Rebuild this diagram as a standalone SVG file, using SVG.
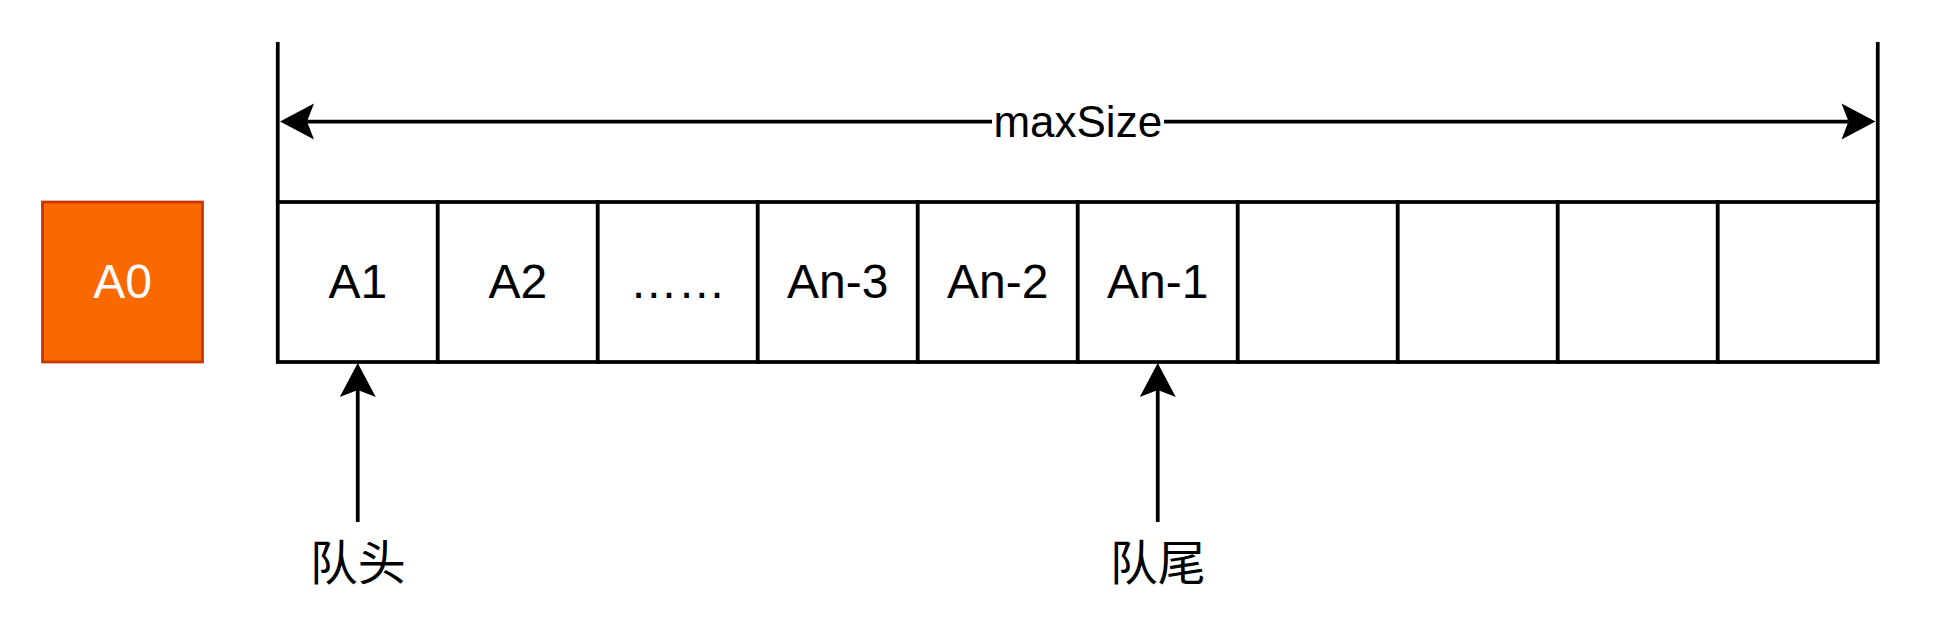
<svg xmlns="http://www.w3.org/2000/svg" width="1956" height="644" viewBox="0 0 1956 644">
  <style>
    .cell { fill: #ffffff; stroke: #000000; stroke-width: 3.75; }
    .lbl { font-family: "Liberation Sans", Arial, sans-serif; font-size: 48px; fill: #000000; text-anchor: middle; }
    .cjk { font-family: "Noto Sans CJK SC", "Liberation Sans", sans-serif; font-size: 48px; fill: #000000; text-anchor: middle; }
    .edge { fill: none; stroke: #000000; stroke-width: 3.75; }
  </style>
  <defs>
    <marker id="arrow" markerUnits="userSpaceOnUse" viewBox="-1 -20 37 40" markerWidth="37" markerHeight="40" refX="7" refY="0" orient="auto-start-reverse" overflow="visible">
      <path d="M0,-18 L34,0 L0,18 L7,0 Z" fill="#000000" stroke="none"/>
    </marker>
  </defs>
  <rect width="1956" height="644" fill="#ffffff"/>

  <g id="A0">
    <rect x="42.5" y="202" width="160" height="160" fill="#fa6800" stroke="#c73500" stroke-width="2.75"/>
    <text x="122.5" y="298" class="lbl" fill="#ffffff" style="fill:#ffffff">A0</text>
  </g>

  <g id="cell1"><rect class="cell" x="277.75" y="202" width="160" height="160"/><text class="lbl" x="357.75" y="298">A1</text></g>
  <g id="cell2"><rect class="cell" x="437.75" y="202" width="160" height="160"/><text class="lbl" x="517.75" y="298">A2</text></g>
  <g id="cell3"><rect class="cell" x="597.75" y="202" width="160" height="160"/><text class="lbl" x="677.75" y="298">……</text></g>
  <g id="cell4"><rect class="cell" x="757.75" y="202" width="160" height="160"/><text class="lbl" x="837.75" y="298">An-3</text></g>
  <g id="cell5"><rect class="cell" x="917.75" y="202" width="160" height="160"/><text class="lbl" x="997.75" y="298">An-2</text></g>
  <g id="cell6"><rect class="cell" x="1077.75" y="202" width="160" height="160"/><text class="lbl" x="1157.75" y="298">An-1</text></g>
  <g id="cell7"><rect class="cell" x="1237.75" y="202" width="160" height="160"/></g>
  <g id="cell8"><rect class="cell" x="1397.75" y="202" width="160" height="160"/></g>
  <g id="cell9"><rect class="cell" x="1557.75" y="202" width="160" height="160"/></g>
  <g id="cell10"><rect class="cell" x="1717.75" y="202" width="160" height="160"/></g>

  <g id="boundaries">
    <line class="edge" x1="277.75" y1="42" x2="277.75" y2="202"/>
    <line class="edge" x1="1877.75" y1="42" x2="1877.75" y2="202"/>
  </g>

  <g id="head-label"><text class="cjk" x="357.75" y="580">队头</text></g>
  <g id="tail-label"><text class="cjk" x="1157.75" y="580">队尾</text></g>

  <g id="connectors">
    <line class="edge" x1="307" y1="121.5" x2="1848.5" y2="121.5" marker-start="url(#arrow)" marker-end="url(#arrow)"/>
    <rect x="992" y="104" width="172" height="38" fill="#ffffff"/>
    <text class="lbl" x="1077.75" y="137" style="font-size:44px">maxSize</text>
    <line class="edge" x1="357.75" y1="522" x2="357.75" y2="390" marker-end="url(#arrow)"/>
    <line class="edge" x1="1157.75" y1="522" x2="1157.75" y2="390" marker-end="url(#arrow)"/>
  </g>
</svg>
